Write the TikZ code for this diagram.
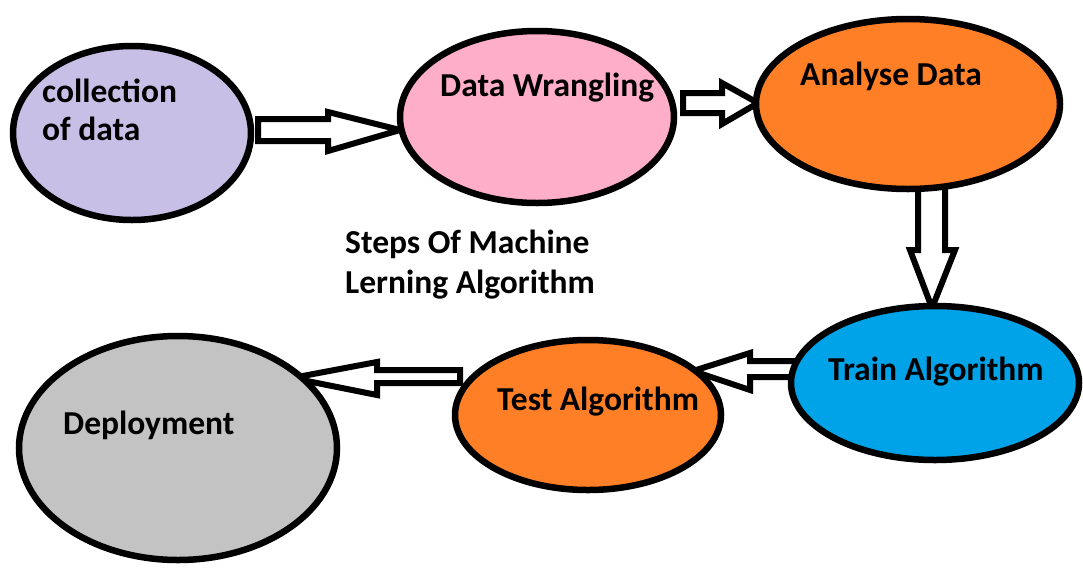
\documentclass[tikz,border=0pt]{standalone}
\usepackage{fontspec}
\setmainfont{Carlito}
\definecolor{lav}{RGB}{200,191,231}
\definecolor{pinkc}{RGB}{255,174,201}
\definecolor{orangec}{RGB}{255,127,39}
\definecolor{bluec}{RGB}{0,162,232}
\definecolor{grayc}{RGB}{195,195,195}
\begin{document}
\begin{tikzpicture}[x=1pt,y=-1pt,
  oval/.style={draw=black,line width=6.5pt},
  barrow/.style={draw=black,fill=white,line width=6pt,line join=miter},
  lbl/.style={anchor=base west,inner sep=0pt,font=\fontsize{33.5}{38}\selectfont\bfseries}]
\useasboundingbox (0,0) rectangle (1083,568);
% block arrows (drawn below the ovals)
\draw[barrow] (258,119) -- (328,119) -- (328,112) -- (400,130) -- (328,151) -- (328,141) -- (258,141) -- cycle;
\draw[barrow] (683,93) -- (722,93) -- (722,83) -- (758,103) -- (722,124) -- (722,113) -- (683,113) -- cycle;
\draw[barrow] (918,185) -- (918,250) -- (910,250) -- (932,308) -- (955,250) -- (945,250) -- (945,185) -- cycle;
\draw[barrow] (802,361) -- (750,361) -- (750,353) -- (693,371) -- (750,390) -- (750,377) -- (802,377) -- cycle;
\draw[barrow] (460,370) -- (377,370) -- (377,362) -- (292,378) -- (377,395) -- (377,383) -- (460,383) -- cycle;
% ovals
\draw[oval,fill=lav] (132,133) ellipse [x radius=119,y radius=87];
\draw[oval,fill=pinkc] (537,117) ellipse [x radius=137,y radius=86];
\draw[oval,fill=orangec] (908,104) ellipse [x radius=152,y radius=85];
\draw[oval,fill=bluec] (935,383) ellipse [x radius=144,y radius=77];
\draw[oval,fill=orangec] (588,415) ellipse [x radius=133,y radius=75];
\draw[oval,fill=grayc] (178,448) ellipse [x radius=159,y radius=112];
% labels
\node[lbl] (c1) at (42,102) {collection};
\node[lbl] (c2) at (42,140) {of data};
\node[lbl] (dw) at (440,96) {Data Wrangling};
\node[lbl] (ad) at (800,85) {Analyse Data};
\node[lbl] (t1) at (345,253) {Steps Of Machine};
\node[lbl] (t2) at (345,293) {Lerning Algorithm};
\node[lbl] (tr) at (828,380) {Train Algorithm};
\node[lbl] (te) at (497,410) {Test Algorithm};
\node[lbl] (de) at (63,434) {Deployment};
\end{tikzpicture}
\end{document}
